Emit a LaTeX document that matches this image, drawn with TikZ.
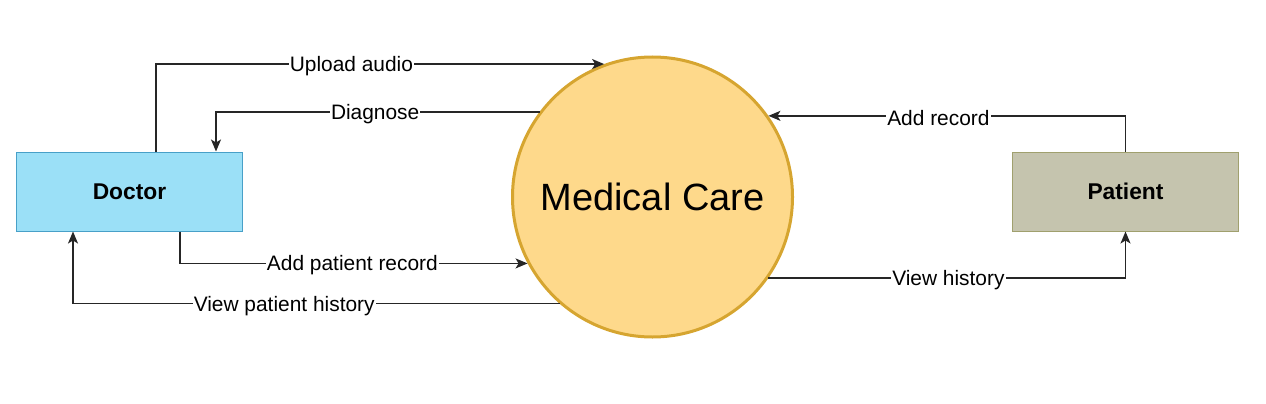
\documentclass[tikz,border=0pt]{standalone}
\usepackage{fontspec}
\setmainfont{Liberation Sans}
\usetikzlibrary{arrows.meta, positioning}

\definecolor{docfill}{RGB}{155,224,247}
\definecolor{docline}{RGB}{72,160,200}
\definecolor{patfill}{RGB}{197,196,174}
\definecolor{patline}{RGB}{160,160,110}
\definecolor{carefill}{RGB}{254,217,139}
\definecolor{careline}{RGB}{214,165,48}

\begin{document}
\begin{tikzpicture}[
x=1pt, y=1pt,
entity/.style={draw, line width=1pt, minimum width=226pt, minimum height=79pt, inner sep=0pt, font=\fontsize{22.8}{26}\selectfont\bfseries},
process/.style={circle, draw=careline, fill=carefill, line width=3pt, minimum size=280pt, inner sep=0pt, font=\fontsize{38}{44}\selectfont},
arrow/.style={-{Stealth[length=12pt, width=10pt, inset=3pt]}, line width=1.4pt, draw=black!85},
lbl/.style={fill=white, inner sep=1pt, yshift=-2pt, font=\fontsize{20.9}{24}\selectfont}
]
\useasboundingbox (0,0) rectangle (1266,-404);

\node[entity, fill=docfill, draw=docline] (doc) at (129.5,-191.5) {Doctor};
\node[process, right=268pt of doc, yshift=-5.5pt] (care) {Medical Care};
\node[entity, fill=patfill, draw=patline, right=218pt of care, yshift=5.5pt] (pat) {Patient};

% doctor side
\draw[arrow] ([xshift=26.5pt]doc.north) |- node[lbl, pos=0.718] {Upload audio} (care.110.7);
\draw[arrow] (care.143.6) -| node[lbl, pos=0.254] {Diagnose} ([xshift=86.5pt]doc.north);
\draw[arrow] ([xshift=50.5pt]doc.south) |- node[lbl, pos=0.748] {Add patient record} (care.208.6);
\draw[arrow] (care.229.8) -| node[lbl, pos=0.283] {View patient history} ([xshift=-56.5pt]doc.south);

% patient side
\draw[arrow] (pat.north) |- node[lbl, pos=0.762] {Add record} (care.35.9);
\draw[arrow] (care.-35.9) -| node[lbl, pos=0.252] {View history} (pat.south);

\end{tikzpicture}
\end{document}
